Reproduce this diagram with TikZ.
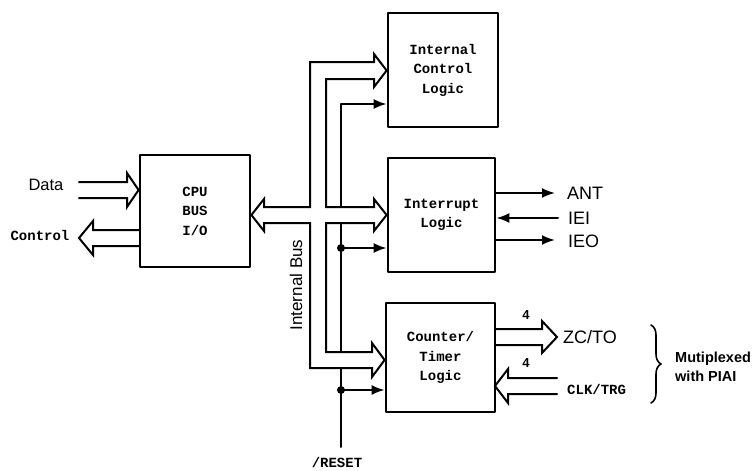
\documentclass[tikz,border=0pt]{standalone}
\usepackage{fontspec}
\setmainfont{Liberation Sans}
\setmonofont{Liberation Mono}
\usetikzlibrary{arrows.meta,decorations.pathreplacing}

\begin{document}
\begin{tikzpicture}[
        x=1pt, y=-1pt,
        line cap=round,
        line join=round,
        blk/.style={draw, line width=2.8pt, inner sep=0pt, align=center,
            font=\ttfamily\bfseries\fontsize{14}{19.5}\selectfont},
        bus/.style={line width=2pt, line join=miter},
        sig/.style={line width=2pt, -{Latex[length=13pt,width=10pt]}},
        v/.style={circle, fill, inner sep=0pt, minimum size=8pt},
        lbl/.style={font=\fontsize{18}{20}\selectfont, anchor=west, inner sep=0pt},
        mono/.style={font=\ttfamily\bfseries\fontsize{14}{16}\selectfont, inner sep=0pt},
        num/.style={font=\bfseries\fontsize{13}{15}\selectfont, inner sep=0pt}
    ]
        \useasboundingbox (0,0) rectangle (756,471);

        \node[blk, minimum width=110pt, minimum height=112pt] (cpu) at (195,211) {CPU\\BUS\\I/O};
        \node[blk, minimum width=110pt, minimum height=114pt] (icl) at (443,70) {Internal\\Control\\Logic};
        \node[blk, minimum width=107pt, minimum height=114pt] (intr) at (441.5,215) {Interrupt\\Logic};
        \node[blk, minimum width=109pt, minimum height=109pt] (ctr) at (440.5,357.5) {Counter/\\Timer\\Logic};

        \coordinate (rowc) at (0,70.5);
        \coordinate (rowi) at (0,215);
        \coordinate (rowt) at (0,360);

        \draw[bus] (374,62) -- (310,62) -- (310,207) -- (264,207) -- (264,199)
            -- (cpu.east |- rowi) -- (264,231) -- (264,223) -- (310,223)
            -- (310,368) -- (372,368) -- (372,377) -- (ctr.west |- rowt)
            -- (372,343) -- (372,352) -- (326,352) -- (326,223) -- (374,223)
            -- (374,231) -- (intr.west |- rowi) -- (374,199) -- (374,207)
            -- (326,207) -- (326,79) -- (374,79) -- (374,87)
            -- (icl.west |- rowc) -- (374,54) -- cycle;

        \node[rotate=90, inner sep=0pt, font=\fontsize{17}{19}\selectfont] (ibus) at (296,285) {Internal Bus};

        \coordinate (t1) at (341,104);
        \coordinate (t2) at (341,207);
        \coordinate (t3) at (341,223);
        \coordinate (t4) at (341,352);
        \coordinate (t5) at (341,368);
        \coordinate (rst) at (341,447);
        \coordinate (d1) at (341,248);
        \coordinate (d2) at (341,390);

        \draw[sig] (t2) -- (t1) -- (icl.west |- t1);
        \draw[bus] (t3) -- (t4);
        \draw[bus] (t5) -- (rst);
        \draw[sig] (d1) -- (intr.west |- d1);
        \draw[sig] (d2) -- (ctr.west |- d2);

        \foreach \p in {d1,d2}{
            \node[v] (dot-\p) at (\p) {};
        }

        \node[mono] (rstl) at (337,462) {/RESET};

        \draw[bus] (79,182) -- (127,182) -- (127,173) -- (cpu.west |- 0,190)
            -- (127,207) -- (127,198) -- (79,198);
        \draw[bus] (140,230) -- (93,230) -- (93,221) -- (79,238) -- (93,255)
            -- (93,246) -- (140,246);
        \node[inner sep=0pt, font=\fontsize{16.5}{18}\selectfont] (data) at (46,185) {Data};
        \node[mono] (ctl) at (40,235) {Control};

        \coordinate (ant) at (555,193);
        \coordinate (iei) at (558,218);
        \coordinate (ieo) at (555,240);

        \draw[sig] (intr.east |- ant) -- (ant);
        \draw[sig] (iei) -- (intr.east |- iei);
        \draw[sig] (intr.east |- ieo) -- (ieo);

        \node[lbl] (antl) at (567,193) {ANT};
        \node[lbl] (ieil) at (568,218) {IEI};
        \node[lbl] (ieol) at (568,241) {IEO};

        \draw[bus] (495,329) -- (542,329) -- (542,321) -- (557,337) -- (542,353)
            -- (542,345) -- (495,345);
        \draw[bus] (557,378) -- (508,378) -- (508,369) -- (495,386) -- (508,403)
            -- (508,394) -- (557,394);

        \node[num] (n1) at (526,315) {4};
        \node[num] (n2) at (526,363) {4};
        \node[lbl] (zcl) at (563,337) {ZC/TO};
        \node[mono, anchor=west] (clkl) at (567,389) {CLK/TRG};

        \draw[decorate, decoration={brace, amplitude=10pt}, line width=1.6pt] (651,325) -- (651,403);
        \node[inner sep=0pt, anchor=west, align=left,
            font=\bfseries\fontsize{14.5}{19}\selectfont] (mux) at (675,367) {Mutiplexed\\with PIAI};
    \end{tikzpicture}
\end{document}
